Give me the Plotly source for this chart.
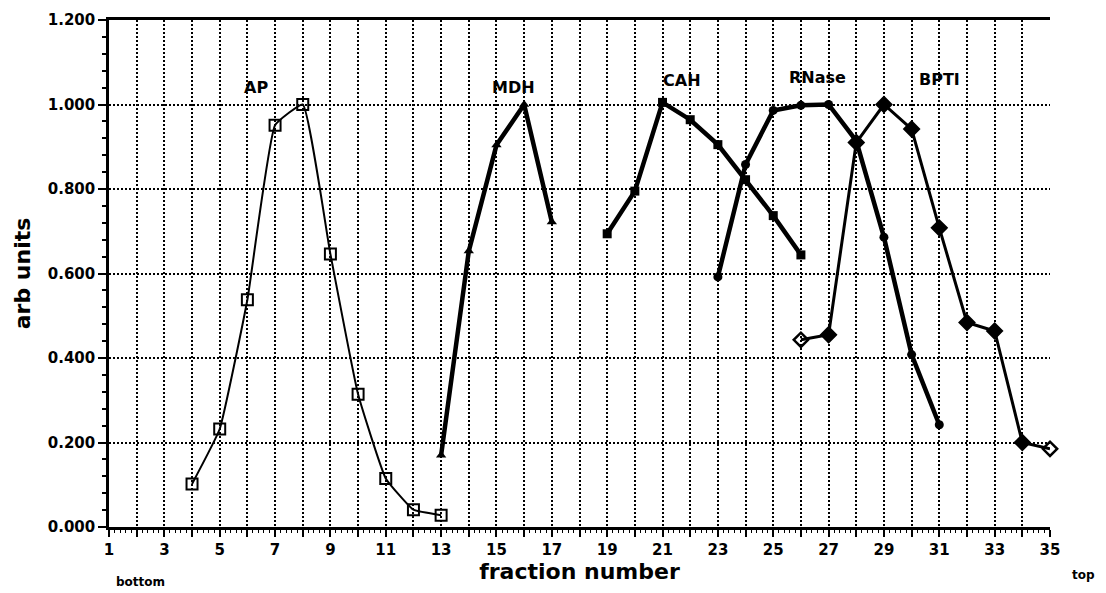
import plotly.graph_objects as go

# Fraction numbers and relative activity for each marker protein
ap_x = [4, 5, 6, 7, 8, 9, 10, 11, 12, 13]
ap_y = [0.102, 0.232, 0.538, 0.951, 1.000, 0.646, 0.314, 0.115, 0.041, 0.028]

mdh_x = [13, 14, 15, 16, 17]
mdh_y = [0.170, 0.653, 0.904, 1.000, 0.722]

cah_x = [19, 20, 21, 22, 23, 24, 25, 26]
cah_y = [0.694, 0.795, 1.005, 0.964, 0.905, 0.822, 0.737, 0.644]

rnase_x = [23, 24, 25, 26, 27, 28, 29, 30, 31]
rnase_y = [0.592, 0.858, 0.986, 0.998, 1.000, 0.914, 0.686, 0.408, 0.242]

bpti_x = [26, 27, 28, 29, 30, 31, 32, 33, 34, 35]
bpti_y = [0.443, 0.455, 0.910, 1.000, 0.942, 0.708, 0.484, 0.464, 0.200, 0.185]

# Peak labels: name, x, y (data units)
peak_names = ["AP", "MDH", "CAH", "RNase", "BPTI"]
peak_x = [6.3, 15.6, 21.7, 26.6, 31.0]
peak_y = [1.040, 1.040, 1.058, 1.065, 1.060]

x_ticks = list(range(1, 36))
x_ticktext = [str(v) if v % 2 == 1 else "" for v in x_ticks]
y_ticks = [0.0, 0.2, 0.4, 0.6, 0.8, 1.0, 1.2]
y_ticktext = ["0.000", "0.200", "0.400", "0.600", "0.800", "1.000", "1.200"]

FONT = "DejaVu Sans"
BLACK = "#000000"

fig = go.Figure()

fig.add_trace(go.Scatter(
    x=ap_x, y=ap_y, mode="lines+markers", name="AP", cliponaxis=False,
    line=dict(color=BLACK, width=2, shape="spline", smoothing=0.35),
    marker=dict(symbol="square-open", size=11, color=BLACK, line=dict(width=2)),
))
fig.add_trace(go.Scatter(
    x=mdh_x, y=mdh_y, mode="lines+markers", name="MDH", cliponaxis=False,
    line=dict(color=BLACK, width=4.5),
    marker=dict(symbol="triangle-up", size=9, color=BLACK),
))
fig.add_trace(go.Scatter(
    x=cah_x, y=cah_y, mode="lines+markers", name="CAH", cliponaxis=False,
    line=dict(color=BLACK, width=4.5),
    marker=dict(symbol="square", size=9, color=BLACK),
))
fig.add_trace(go.Scatter(
    x=rnase_x, y=rnase_y, mode="lines+markers", name="RNase", cliponaxis=False,
    line=dict(color=BLACK, width=4.5),
    marker=dict(symbol="circle", size=9, color=BLACK),
))
bpti_symbols = ["diamond-open"] + ["diamond"] * 8 + ["diamond-open"]
fig.add_trace(go.Scatter(
    x=bpti_x, y=bpti_y, mode="lines+markers", name="BPTI", cliponaxis=False,
    line=dict(color=BLACK, width=3),
    marker=dict(symbol=bpti_symbols, size=11, color=BLACK, line=dict(width=2.5, color=BLACK)),
))

for name, px, py in zip(peak_names, peak_x, peak_y):
    fig.add_annotation(x=px, y=py, text=name, showarrow=False,
                       font=dict(family=FONT, size=16, color=BLACK, weight="bold"))

fig.add_annotation(xref="paper", yref="paper", x=0.033, y=-0.108, text="bottom",
                   xanchor="center", yanchor="middle", showarrow=False,
                   font=dict(family=FONT, size=12, color=BLACK, weight="bold"))
fig.add_annotation(xref="paper", yref="paper", x=1.036, y=-0.094, text="top",
                   xanchor="center", yanchor="middle", showarrow=False,
                   font=dict(family=FONT, size=12, color=BLACK, weight="bold"))

fig.update_layout(
    width=1106, height=593,
    margin=dict(l=109, r=56, t=20, b=66),
    paper_bgcolor="white", plot_bgcolor="white",
    showlegend=False,
    font=dict(family=FONT, color=BLACK),
    xaxis=dict(
        range=[1, 35], tickmode="array", tickvals=x_ticks, ticktext=x_ticktext,
        tickfont=dict(family=FONT, size=15, color=BLACK, weight="bold"),
        ticks="outside", ticklen=7, tickwidth=2, tickcolor=BLACK,
        showline=True, linewidth=2.5, linecolor=BLACK, mirror=True,
        showgrid=True, gridcolor=BLACK, gridwidth=1.5, griddash="2px,2px",
        zeroline=False,
        minor=dict(tick0=1, dtick=0.2, ticks="outside", ticklen=3, tickwidth=1,
                   tickcolor=BLACK, showgrid=False),
        title=dict(text="fraction number", standoff=4,
                   font=dict(family=FONT, size=22, color=BLACK, weight="bold")),
    ),
    yaxis=dict(
        range=[0, 1.2], tickmode="array", tickvals=y_ticks, ticktext=y_ticktext,
        tickfont=dict(family=FONT, size=15, color=BLACK, weight="bold"),
        ticks="outside", ticklen=8, tickwidth=2, tickcolor=BLACK,
        showline=True, linewidth=2.5, linecolor=BLACK, mirror=False,
        showgrid=True, gridcolor=BLACK, gridwidth=1.5, griddash="2px,2px",
        zeroline=False,
        minor=dict(tick0=0, dtick=0.04, ticks="outside", ticklen=4, tickwidth=2,
                   tickcolor=BLACK, showgrid=False),
        title=dict(text="arb units", standoff=12,
                   font=dict(family=FONT, size=22, color=BLACK, weight="bold")),
    ),
)

fig.write_html("out.html")
